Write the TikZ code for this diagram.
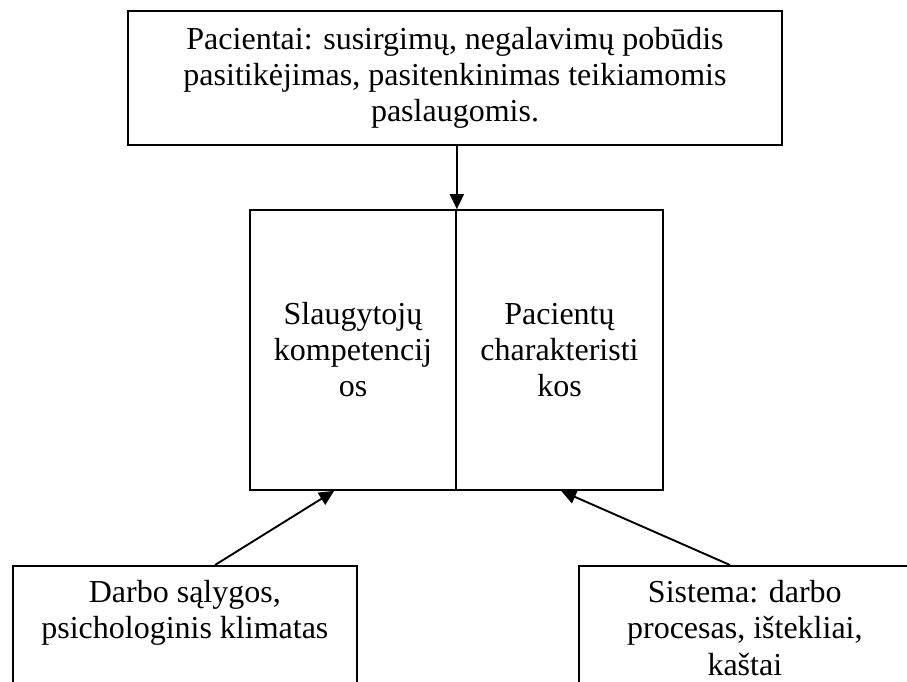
\documentclass[tikz,border=0pt]{standalone}
\usepackage{fontspec}
\setmainfont{Liberation Serif}
\usetikzlibrary{arrows.meta,calc}
\begin{document}
\begin{tikzpicture}[x=1pt,y=-1pt,
  box/.style={draw, line width=1.7pt, inner sep=0pt, align=center, font=\fontsize{32}{36}\selectfont},
  txt/.style={inner sep=0pt, align=center, font=\fontsize{32}{36.5}\selectfont},
  arr/.style={line width=1.9pt, -{Triangle[length=15pt,width=14pt]}}]
\useasboundingbox (0,0) rectangle (907,681);
\clip (0,0) rectangle (907,681);
\node[box, minimum width=654pt, minimum height=134pt] (top) at (455,78)
  {Pacientai: susirgimų, negalavimų pobūdis\\pasitikėjimas, pasitenkinimas teikiamomis\\paslaugomis.};
\node[box, minimum width=206pt, minimum height=280pt] (ml) at (353,350) {Slaugytojų\\kompetencij\\os};
\node[box, minimum width=207pt, minimum height=280pt] (mr) at (559.5,350) {Pacientų\\charakteristi\\kos};
\node[box, anchor=north west, minimum width=344pt, minimum height=160pt] (bl) at (12,565) {};
\node[box, anchor=north west, minimum width=332pt, minimum height=160pt] (br) at (578,565) {};
\node[txt, anchor=north] (blt) at ($(bl.north)+(0,15)$) {Darbo sąlygos,\\psichologinis klimatas};
\node[txt, anchor=north] (brt) at ($(br.north)+(0,15)$) {Sistema: darbo\\procesas, ištekliai,\\kaštai};
\draw[arr] (top.south -| ml.east) -- (ml.north east);
\draw[arr] ($(bl.north west)+(203,0)$) -- ($(ml.south west)+(85,0)$);
\draw[arr] ($(br.north west)+(152,0)$) -- ($(mr.south west)+(106,0)$);
\end{tikzpicture}
\end{document}
